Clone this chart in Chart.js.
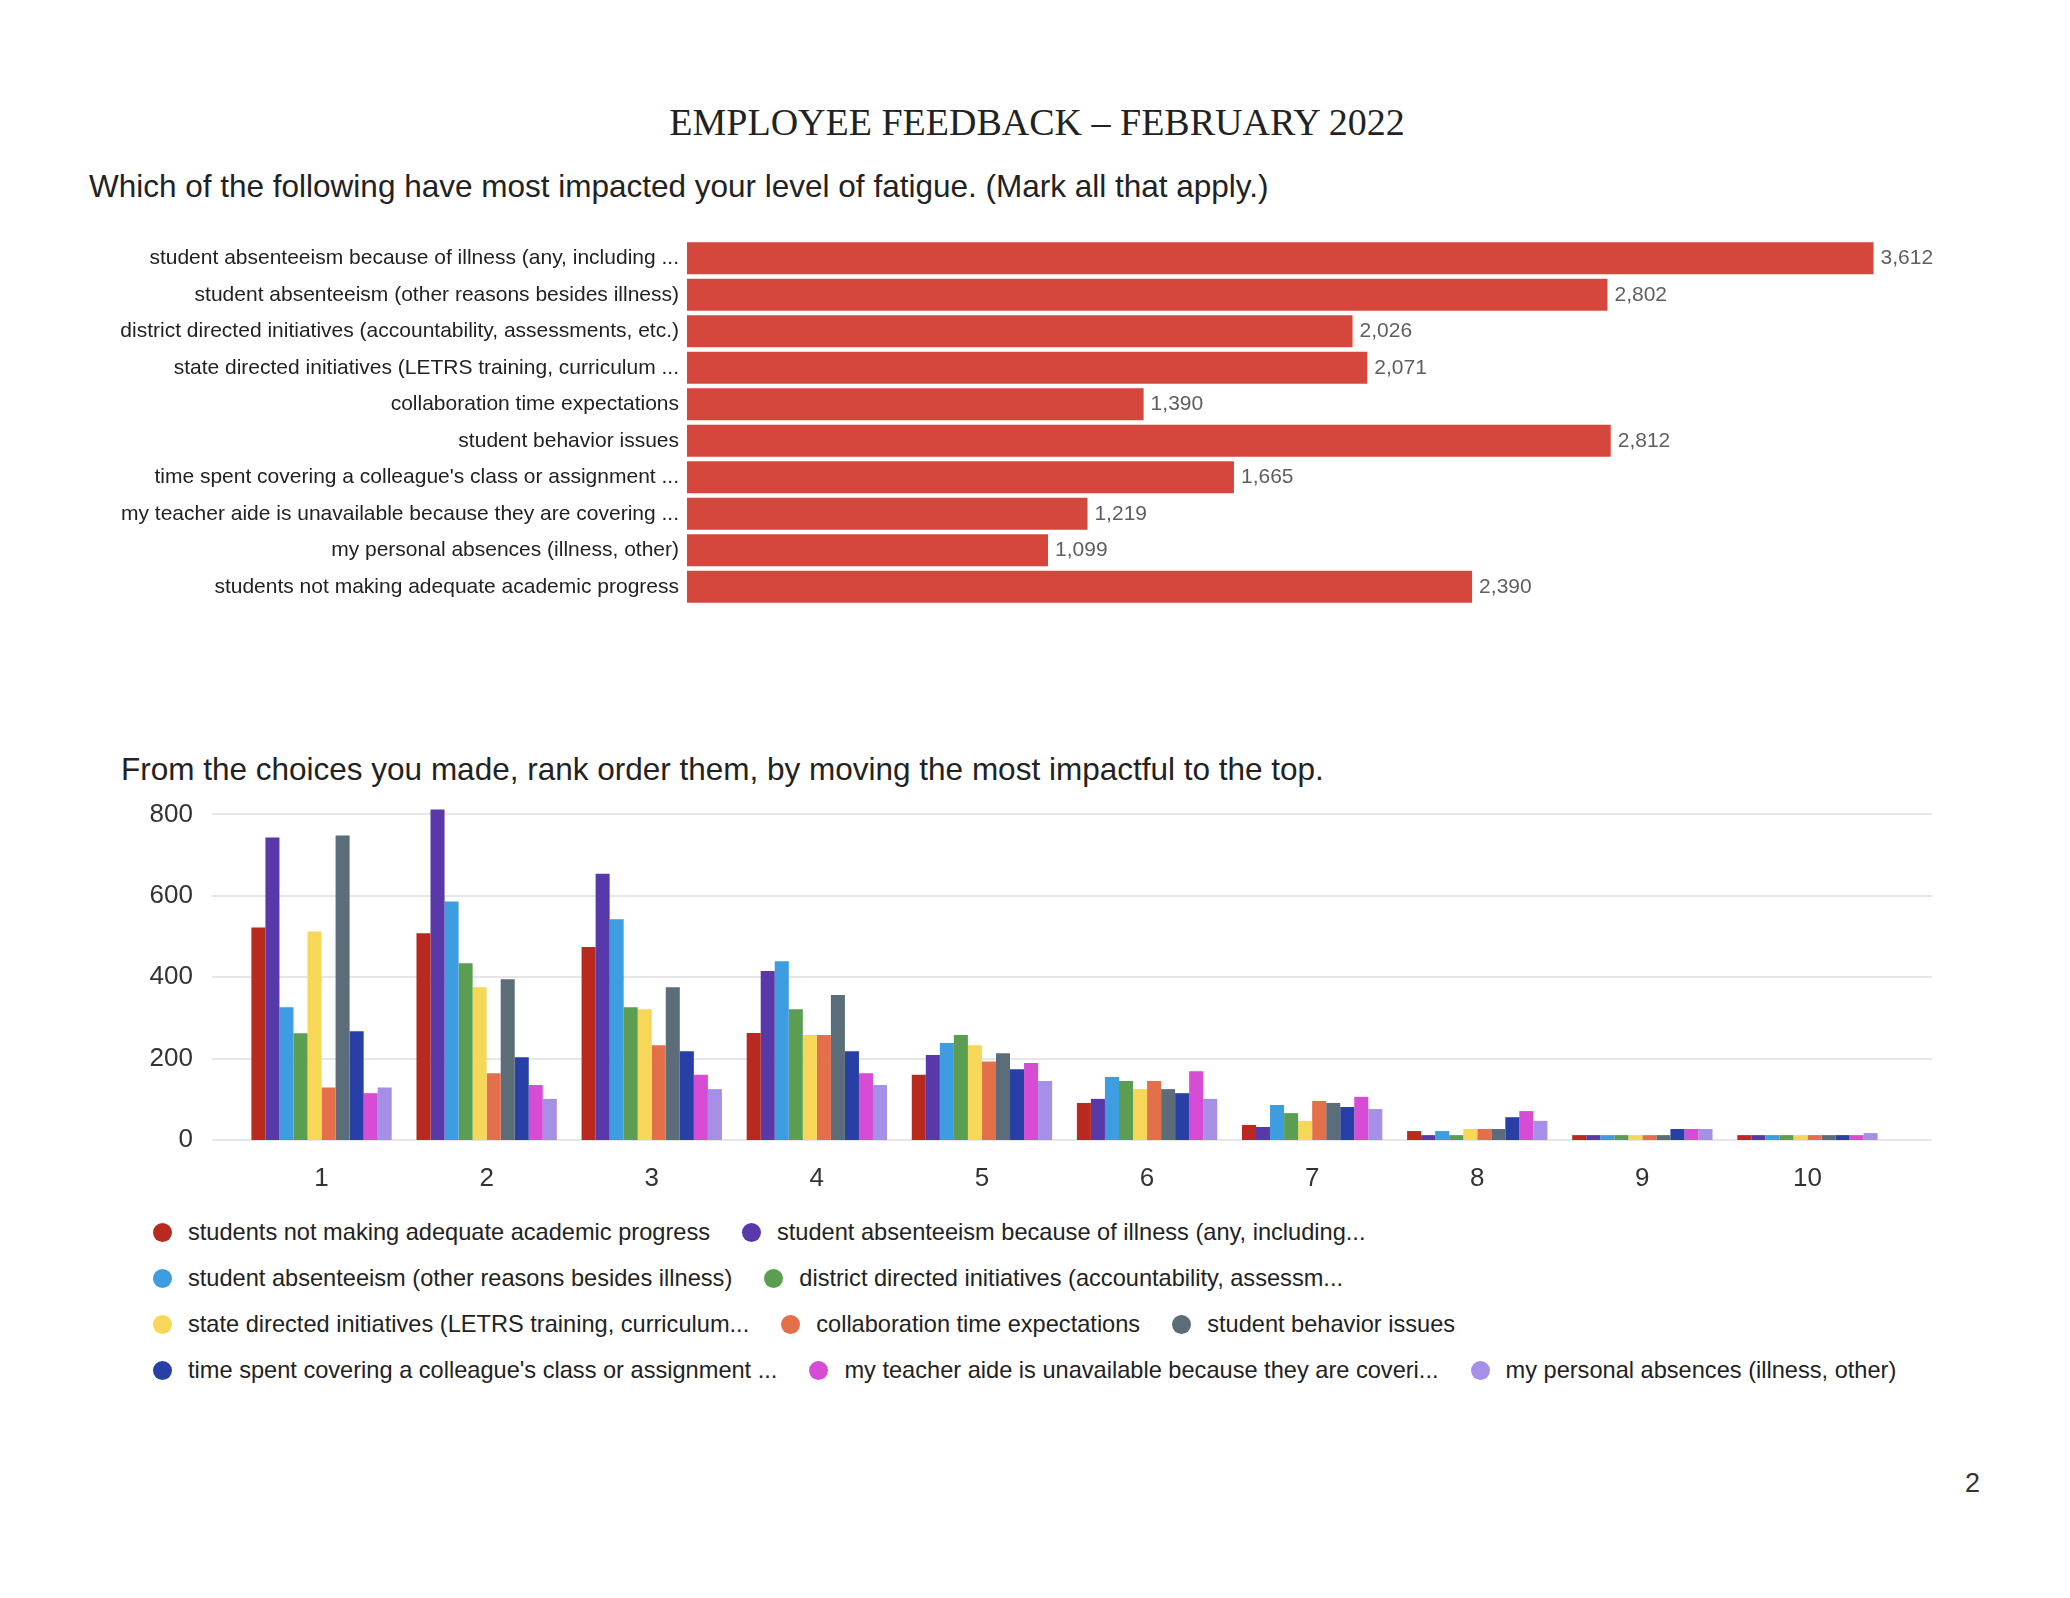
<!DOCTYPE html>
<html lang="en">
<head>
<meta charset="UTF-8">
<title>Employee Feedback - February 2022</title>
<script src="https://cdn.jsdelivr.net/npm/chart.js"></script>
<style>
    html, body {
        margin: 0;
        padding: 0;
        background: #ffffff;
    }
    #page {
        position: relative;
        width: 2070px;
        height: 1598px;
        overflow: hidden;
        font-family: "Liberation Sans", Arial, sans-serif;
        color: #222;
    }
    .abs {
        position: absolute;
        white-space: nowrap;
    }
    #title {
        left: 0;
        width: 2074px;
        top: 103px;
        text-align: center;
        font-family: "Liberation Serif", "Times New Roman", serif;
        font-size: 38px;
        line-height: 39px;
        color: #222;
    }
    .question {
        font-size: 31.5px;
        line-height: 31.5px;
        color: #222;
    }
    #q1 { left: 89px; top: 171px; }
    #q2 { left: 121px; top: 754px; }
    #pageNo {
        left: 1965px;
        top: 1468px;
        font-size: 27px;
        color: #333;
    }
    #legend {
        left: 153px;
        top: 1210px;
    }
    .legend-row {
        display: flex;
        height: 45.8px;
        align-items: center;
    }
    .legend-item {
        display: flex;
        align-items: center;
        margin-right: 32px;
        font-size: 23.6px;
        color: #222;
    }
    .legend-dot {
        width: 19px;
        height: 19px;
        border-radius: 50%;
        margin-right: 16px;
    }
    canvas {
        position: absolute;
        left: 0;
    }
    #feedbackChart { top: 225px; }
    #rankChart { top: 790px; }
</style>
</head>
<body>
<div id="page">
    <div id="title" class="abs">EMPLOYEE FEEDBACK – FEBRUARY 2022</div>
    <div id="q1" class="abs question">Which of the following have most impacted your level of fatigue. (Mark all that apply.)</div>
    <canvas id="feedbackChart" width="2070" height="400"></canvas>
    <div id="q2" class="abs question">From the choices you made, rank order them, by moving the most impactful to the top.</div>
    <canvas id="rankChart" width="2070" height="420"></canvas>
    <div id="legend" class="abs"></div>
    <div id="pageNo" class="abs">2</div>
</div>

<script>
// top chart: counts per reason
var fatigueLabels = [
    'student absenteeism because of illness (any, including ...',
    'student absenteeism (other reasons besides illness)',
    'district directed initiatives (accountability, assessments, etc.)',
    'state directed initiatives (LETRS training, curriculum ...',
    'collaboration time expectations',
    'student behavior issues',
    "time spent covering a colleague's class or assignment ...",
    'my teacher aide is unavailable because they are covering ...',
    'my personal absences (illness, other)',
    'students not making adequate academic progress'
];
var fatigueCounts = [3612, 2802, 2026, 2071, 1390, 2812, 1665, 1219, 1099, 2390];

// bottom chart: rank positions 1..10
var rankLabels = ['1', '2', '3', '4', '5', '6', '7', '8', '9', '10'];
var seriesNames = [
    'students not making adequate academic progress',
    'student absenteeism because of illness (any, including...',
    'student absenteeism (other reasons besides illness)',
    'district directed initiatives (accountability, assessm...',
    'state directed initiatives (LETRS training, curriculum...',
    'collaboration time expectations',
    'student behavior issues',
    "time spent covering a colleague's class or assignment ...",
    'my teacher aide is unavailable because they are coveri...',
    'my personal absences (illness, other)'
];
var seriesColors = ['#b8291f', '#5939a9', '#3e9ce0', '#5b9e51', '#f7d758',
                    '#e3704a', '#5b6d78', '#283fa6', '#d64cd4', '#a68fe6'];

var academicProgress = [522, 508, 474, 263, 160, 91, 37, 22, 12, 12];
var absIllness       = [743, 812, 654, 415, 209, 101, 32, 12, 12, 12];
var absOther         = [326, 586, 542, 439, 238, 155, 86, 22, 12, 12];
var districtInit     = [262, 434, 326, 321, 258, 145, 66, 12, 12, 12];
var stateInit        = [512, 375, 321, 258, 233, 125, 47, 27, 12, 12];
var collaboration    = [129, 164, 233, 258, 193, 145, 96, 27, 12, 12];
var behavior         = [748, 395, 375, 356, 213, 125, 91, 27, 12, 12];
var coveringClass    = [267, 203, 218, 218, 174, 115, 81, 56, 27, 12];
var aideUnavailable  = [115, 135, 160, 164, 189, 169, 106, 71, 27, 12];
var personalAbsences = [129, 101, 125, 135, 145, 101, 76, 47, 27, 17];

var rankSeries = [academicProgress, absIllness, absOther, districtInit, stateInit,
                  collaboration, behavior, coveringClass, aideUnavailable, personalAbsences];

Chart.defaults.font.family = '"Liberation Sans", Arial, sans-serif';
Chart.defaults.color = '#222';
Chart.defaults.animation = false;

// value labels at the end of each horizontal bar
var barValueLabels = {
    id: 'barValueLabels',
    afterDatasetsDraw: function (chart) {
        var ctx = chart.ctx;
        var meta = chart.getDatasetMeta(0);
        ctx.save();
        ctx.font = '21px "Liberation Sans", Arial, sans-serif';
        ctx.fillStyle = '#5f5f5f';
        ctx.textBaseline = 'middle';
        ctx.textAlign = 'left';
        meta.data.forEach(function (bar, i) {
            ctx.fillText(fatigueCounts[i].toLocaleString('en-US'), bar.x + 7, bar.y);
        });
        ctx.restore();
    }
};

var ctxFeedback = document.getElementById('feedbackChart').getContext('2d');
var feedbackChart = new Chart(ctxFeedback, {
    type: 'bar',
    data: {
        labels: fatigueLabels,
        datasets: [{
            data: fatigueCounts,
            backgroundColor: '#d5473d',
            barPercentage: 0.88,
            categoryPercentage: 1.0
        }]
    },
    options: {
        indexAxis: 'y',
        responsive: false,
        layout: { padding: { left: 0, right: 69, top: 15, bottom: 20 } },
        plugins: { legend: { display: false }, tooltip: { enabled: false } },
        scales: {
            x: { display: false, min: 0, max: 4000 },
            y: {
                grid: { display: false, drawTicks: false },
                border: { display: false },
                ticks: { padding: 8, font: { size: 21 }, color: '#222', autoSkip: false },
                afterFit: function (scale) {
                    scale.width = 687;
                    scale.paddingTop = 0;
                    scale.paddingBottom = 0;
                }
            }
        }
    },
    plugins: [barValueLabels]
});

// horizontal gridlines drawn wider than the category area
var wideGrid = {
    id: 'wideGrid',
    beforeDatasetsDraw: function (chart) {
        var ctx = chart.ctx;
        var yScale = chart.scales.y;
        ctx.save();
        ctx.strokeStyle = '#e6e6e6';
        ctx.lineWidth = 2;
        yScale.ticks.forEach(function (t) {
            var y = Math.round(yScale.getPixelForValue(t.value));
            ctx.beginPath();
            ctx.moveTo(212, y);
            ctx.lineTo(1932, y);
            ctx.stroke();
        });
        ctx.restore();
    }
};

var ctxRank = document.getElementById('rankChart').getContext('2d');
var rankChart = new Chart(ctxRank, {
    type: 'bar',
    data: {
        labels: rankLabels,
        datasets: rankSeries.map(function (values, i) {
            return {
                label: seriesNames[i],
                data: values,
                backgroundColor: seriesColors[i],
                barPercentage: 1.0,
                categoryPercentage: 0.85
            };
        })
    },
    options: {
        responsive: false,
        layout: { padding: { left: 0, right: 180, top: 4, bottom: 10 } },
        plugins: { legend: { display: false }, tooltip: { enabled: false } },
        scales: {
            x: {
                grid: { display: false, drawTicks: false },
                border: { display: false },
                ticks: { padding: 23, font: { size: 26 }, color: '#333' },
                afterFit: function (scale) { scale.height = 60; }
            },
            y: {
                min: 0,
                max: 850,
                grid: { display: false, drawTicks: false },
                border: { display: false },
                ticks: { stepSize: 200, includeBounds: false, padding: 46, font: { size: 26 }, color: '#333' },
                afterFit: function (scale) {
                    scale.width = 239;
                    scale.paddingTop = 0;
                    scale.paddingBottom = 0;
                }
            }
        }
    },
    plugins: [wideGrid]
});

// legend rows as in the original (2, 2, 3, 3 items)
var legendRows = [2, 2, 3, 3];
var legendEl = document.getElementById('legend');
var idx = 0;
legendRows.forEach(function (count) {
    var row = document.createElement('div');
    row.className = 'legend-row';
    for (var k = 0; k < count; k++, idx++) {
        var ds = rankChart.data.datasets[idx];
        var item = document.createElement('div');
        item.className = 'legend-item';
        var dot = document.createElement('span');
        dot.className = 'legend-dot';
        dot.style.background = ds.backgroundColor;
        var txt = document.createElement('span');
        txt.textContent = ds.label;
        item.appendChild(dot);
        item.appendChild(txt);
        row.appendChild(item);
    }
    legendEl.appendChild(row);
});
</script>
</body>
</html>
